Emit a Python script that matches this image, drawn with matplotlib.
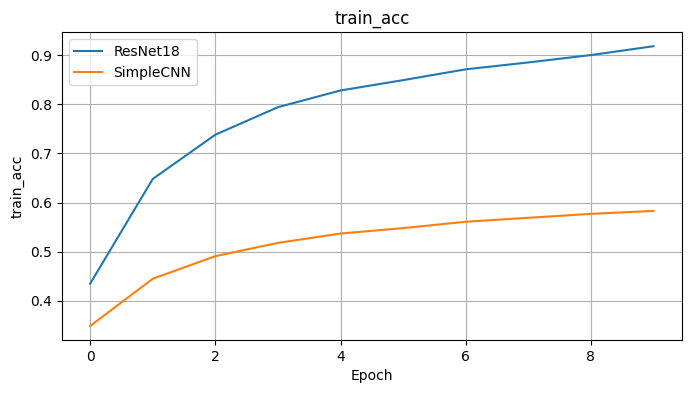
import numpy as np
import matplotlib
matplotlib.use("Agg")
import matplotlib.pyplot as plt

# values
epochs = np.arange(10)
resnet18 = [0.435, 0.648, 0.738, 0.794, 0.828, 0.849, 0.871, 0.885, 0.900, 0.918]
simplecnn = [0.349, 0.445, 0.491, 0.518, 0.537, 0.548, 0.561, 0.569, 0.577, 0.583]

fig = plt.figure(figsize=(6.91, 3.93), dpi=100)
ax = fig.add_subplot(111)
fig.subplots_adjust(left=0.0897, right=0.9865, top=0.918, bottom=0.135)

ax.plot(epochs, resnet18, label="ResNet18")
ax.plot(epochs, simplecnn, label="SimpleCNN")
ax.set_title("train_acc")
ax.set_xlabel("Epoch")
ax.set_ylabel("train_acc")
ax.legend(loc="upper left")
ax.grid(True)

fig.savefig("out.png", dpi=100)
